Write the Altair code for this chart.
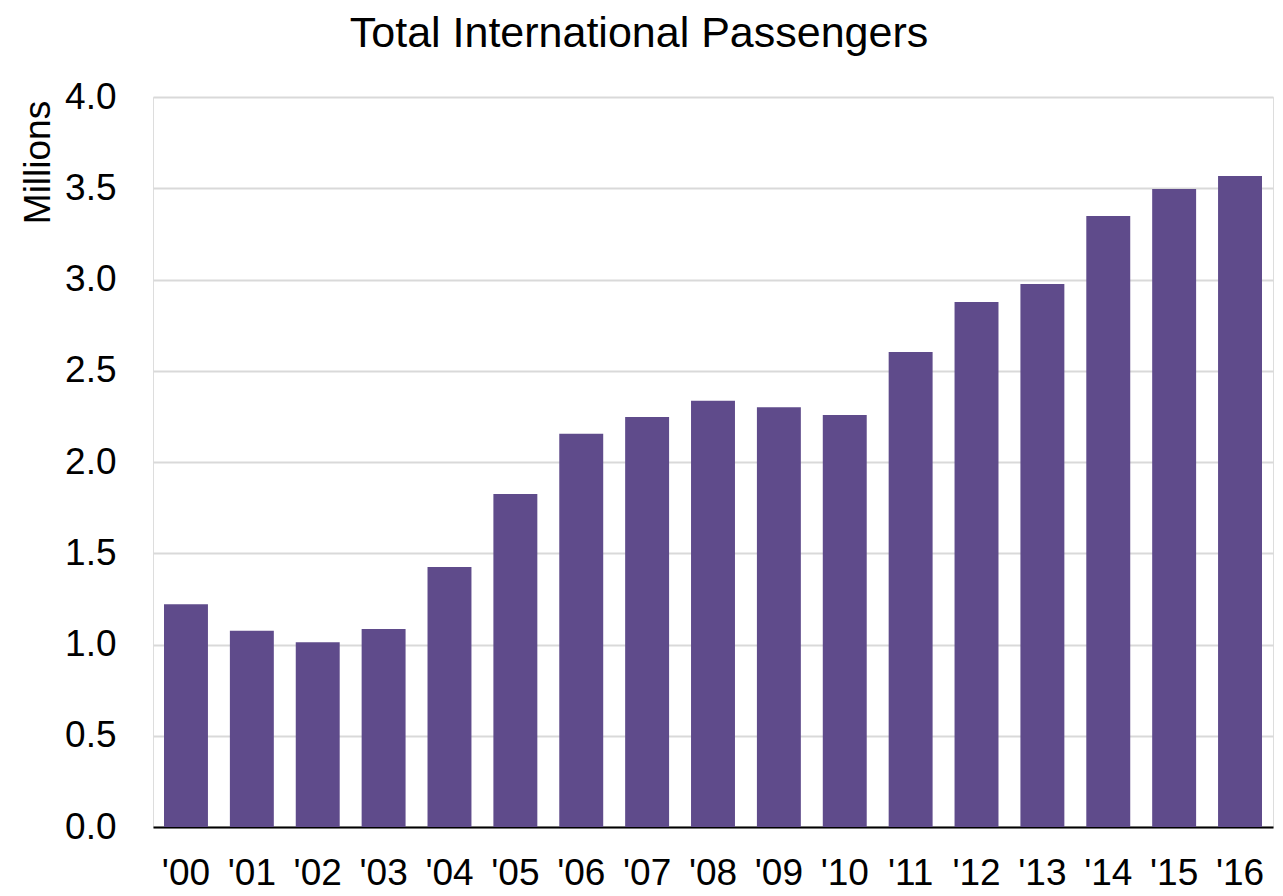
import altair as alt
import pandas as pd

years = ["'00", "'01", "'02", "'03", "'04", "'05", "'06", "'07", "'08", "'09",
         "'10", "'11", "'12", "'13", "'14", "'15", "'16"]
passengers = [1.22, 1.075, 1.013, 1.085, 1.425, 1.825, 2.155, 2.247, 2.335, 2.30,
              2.258, 2.603, 2.877, 2.975, 3.348, 3.496, 3.567]

df = pd.DataFrame({"year": years, "value": passengers})

FONT = "Liberation Sans"

chart = alt.Chart(df).mark_bar(color="#5F4B8B").encode(
    x=alt.X("year:N", sort=years, title=None,
            scale=alt.Scale(paddingInner=0.333, paddingOuter=0.167),
            axis=alt.Axis(labelAngle=0, labelFontSize=37, labelFont=FONT,
                          labelColor="#000000", labelPadding=28, labelBaseline="top",
                          ticks=False, domainColor="#000000", domainWidth=2,
                          grid=False)),
    y=alt.Y("value:Q", title="Millions",
            scale=alt.Scale(domain=[0, 4.0], nice=False),
            axis=alt.Axis(values=[0, 0.5, 1, 1.5, 2, 2.5, 3, 3.5, 4.0], format=".1f",
                          labelFontSize=37, labelFont=FONT, labelColor="#000000",
                          labelPadding=37, ticks=False, domain=False,
                          gridColor="#d9d9d9", gridWidth=2,
                          titleFont=FONT, titleFontSize=37, titleFontWeight="normal",
                          titleColor="#000000", titleAngle=-90, titleX=-104, titleY=65,
                          titleAlign="center", titleBaseline="alphabetic")),
).properties(
    width=1120, height=730,
    title=alt.TitleParams("Total International Passengers", font=FONT, fontSize=43,
                          fontWeight="normal", color="#000000", anchor="middle",
                          dx=-74, offset=22),
    autosize=alt.AutoSizeParams(type="none"),
    padding={"left": 145, "top": 89, "right": 2, "bottom": 68},
).configure_view(stroke=None).configure(background="#ffffff")

chart.save("out.html", embed_options={"renderer": "svg", "actions": False})
